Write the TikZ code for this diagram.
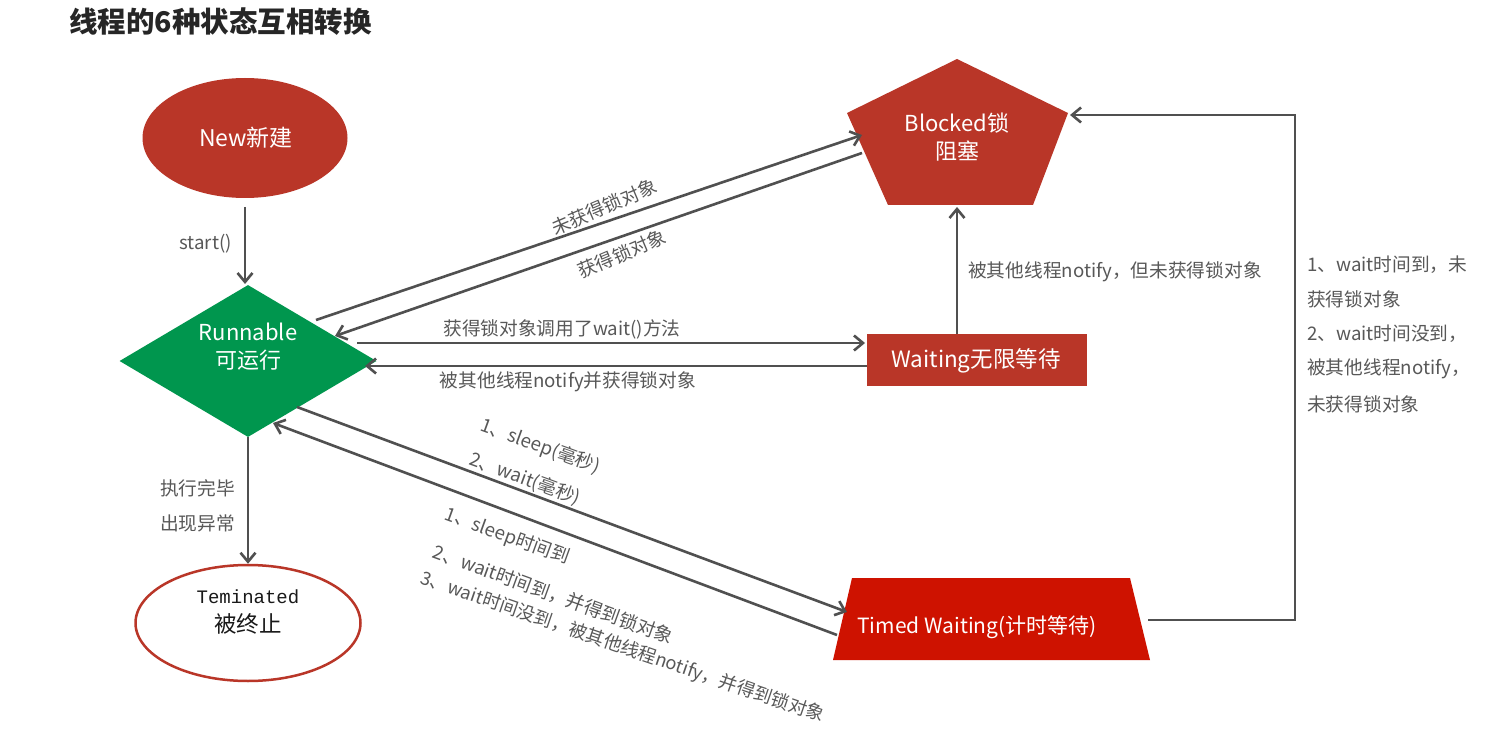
\documentclass[tikz,border=0pt]{standalone}
\usepackage{fontspec}
\setmainfont{Noto Sans CJK SC}
\newfontfamily\monofont{Liberation Mono}
\usetikzlibrary{arrows.meta,shapes.geometric}
\definecolor{dred}{RGB}{185,54,40}
\definecolor{tred}{RGB}{206,18,0}
\definecolor{dgreen}{RGB}{0,150,78}
\definecolor{lgray}{RGB}{80,80,80}
\definecolor{tgray}{RGB}{88,88,88}
\begin{document}
\begin{tikzpicture}[x=1pt,y=-1pt,
  conn/.style={draw=lgray,line width=2.6pt},
  arr/.style={conn,-{Straight Barb[length=9pt,width=15pt]}},
  lab/.style={text=tgray,font=\fontsize{18.7}{18.7}\selectfont,inner sep=0pt},
  wt/.style={text=white,font=\fontsize{22}{28}\selectfont,align=center,inner sep=0pt}]
\useasboundingbox (0,0) rectangle (1510,730);
\fill[white] (0,0) rectangle (1510,730);

% title
\node[anchor=west,inner sep=0pt,font=\fontsize{28.5}{28.5}\selectfont\bfseries,text=black!85] (title) at (69,22) {线程的6种状态互相转换};

% states
\node[ellipse,fill=dred,minimum width=205pt,minimum height=120pt,inner sep=0pt] (new) at (245,138) {};
\node[wt,font=\fontsize{23}{28}\selectfont] (newtxt) at (246,138) {New新建};

\node[diamond,fill=dgreen,minimum width=257pt,minimum height=152pt,aspect=1.69,inner sep=0pt] (run) at (248,361) {};
\node[wt] (runtxt) at (248,347) {Runnable\\可运行};

\fill[dred] (957,59) -- (1068,113) -- (1033,205) -- (888,205) -- (847,113) -- cycle;
\node[wt] (blocked) at (957,137) {Blocked锁\\阻塞};
\coordinate (bbot) at (957,207);

\node[rectangle,fill=dred,minimum width=220pt,minimum height=52pt,inner sep=0pt] (wait) at (977,360) {};
\node[wt,font=\fontsize{22.5}{28}\selectfont] (waittxt) at (976,361) {Waiting无限等待};

\fill[tred] (852,578) -- (1130,578) -- (1150,660) -- (833,660) -- cycle;
\node[wt,font=\fontsize{21}{21}\selectfont] (timed) at (977,627) {Timed Waiting(计时等待)};

\node[ellipse,draw=dred,line width=2.5pt,fill=white,minimum width=225pt,minimum height=116pt,inner sep=0pt] (term) at (248,623) {};
\node[inner sep=0pt,text=black!90,font=\monofont\fontsize{19}{19}\selectfont] (termtxt1) at (248,597) {Teminated};
\node[inner sep=0pt,text=black!90,font=\fontsize{22.5}{22.5}\selectfont] (termtxt2) at (248,624) {被终止};

% connector end points
\coordinate (r1) at (316,320);  \coordinate (b1) at (862,135);
\coordinate (b2) at (862,153);  \coordinate (r2) at (335,336);
\coordinate (r3) at (357,343);  \coordinate (w1) at (865,343);
\coordinate (w2) at (867,366);  \coordinate (r4) at (365,366);
\coordinate (r5) at (297,407);  \coordinate (t1) at (847,612);
\coordinate (t2) at (837,635);  \coordinate (r6) at (273,423);
\coordinate (t3) at (1148,620); \coordinate (b3) at (1070,115);
\coordinate (nbot) at (245,207); \coordinate (rtop) at (245,284);

% connectors
\draw[arr] (nbot) -- (rtop);
\draw[arr] (run.south) -- (term.north);
\draw[arr] (r1) -- (b1);
\draw[arr] (b2) -- (r2);
\draw[arr] (r3) -- (w1);
\draw[arr] (w2) -- (r4);
\draw[arr] (blocked |- wait.north) -- (bbot);
\draw[arr] (r5) -- (t1);
\draw[arr] (t2) -- (r6);
\draw[arr] (t3) -- (1295,620) -- (1295,115) -- (b3);

% labels
\node[lab,anchor=east] (lstart) at (232,244) {start()};
\node[lab,rotate=23] (lnb) at (604,207) {未获得锁对象};
\node[lab,rotate=23] (lgb) at (622,254) {获得锁对象};
\node[lab] (lwait) at (562,329) {获得锁对象调用了wait()方法};
\node[lab] (lnotify) at (568,382) {被其他线程notify并获得锁对象};
\node[lab,anchor=west] (lwb) at (968,272) {被其他线程notify，但未获得锁对象};
\node[lab,anchor=west] (lr1) at (1307,265) {1、wait时间到，未};
\node[lab,anchor=west] (lr2) at (1307,299) {获得锁对象};
\node[lab,anchor=west] (lr3) at (1307,334) {2、wait时间没到，};
\node[lab,anchor=west] (lr4) at (1307,369) {被其他线程notify，};
\node[lab,anchor=west] (lr5) at (1307,404) {未获得锁对象};
\node[lab,anchor=west] (le1) at (160,488) {执行完毕};
\node[lab,anchor=west] (le2) at (160,523) {出现异常};
\node[lab,anchor=west,rotate=-20] (ls1) at (481,425) {1、sleep(毫秒)};
\node[lab,anchor=west,rotate=-20] (ls2) at (470,459) {2、wait(毫秒)};
\node[lab,anchor=west,rotate=-20] (lt1) at (445,514) {1、sleep时间到};
\node[lab,anchor=west,rotate=-20] (lt2) at (434,551) {2、wait时间到，并得到锁对象};
\node[lab,anchor=west,rotate=-19,font=\fontsize{18.3}{18.3}\selectfont] (lt3) at (421,578) {3、wait时间没到，被其他线程notify，并得到锁对象};
\end{tikzpicture}
\end{document}
